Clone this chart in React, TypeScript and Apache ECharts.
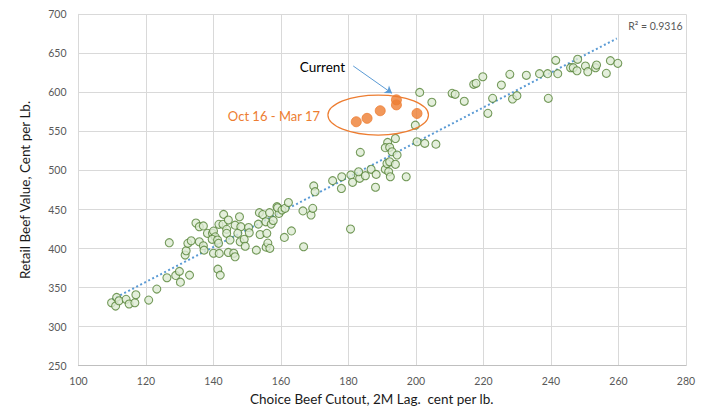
import React, { useEffect, useRef } from "react";
import * as echarts from "echarts";

// Choice beef cutout (2M lag, ¢/lb) vs retail beef value (¢/lb)
const historicalPoints: [number, number][] = [
  [109.8, 330.6], [111.0, 326.4], [111.3, 337.5], [112.0, 333.2], [114.1, 335], [115.0, 329],
  [116.7, 330.6], [117.0, 340.8], [120.8, 334], [123.2, 348.1], [126.2, 362.6], [128.8, 365.6],
  [130.2, 357], [129.9, 370.8], [132.9, 366], [126.9, 407.5],
  [131.6, 391.7], [131.9, 397.2], [132.4, 406.7], [133.4, 410], [134.8, 432.7], [135.8, 428],
  [137.0, 429], [135.8, 408.7], [137.0, 403.6], [137.2, 398], [138.2, 419.5], [139.7, 419.5],
  [140.0, 422.4], [140.5, 415], [139.6, 411.8], [141.2, 411], [141.5, 406.7], [140.0, 394],
  [141.7, 393.8], [141.3, 373.6], [142.0, 366], [141.6, 431], [143.0, 443.8], [142.8, 431],
  [144.4, 436.5], [143.9, 424.6], [143.9, 419.5], [144.9, 411], [144.4, 395], [146.0, 394],
  [146.4, 389.5], [146.4, 430], [147.7, 440.7], [148.1, 428], [147.2, 419.5], [147.9, 408.7],
  [149.1, 411.8], [149.4, 403], [150.4, 427], [150.6, 420.2], [152.7, 398], [153.3, 431.3],
  [153.6, 446], [153.8, 418], [154.6, 443.5], [155.6, 401.8], [156.1, 407], [155.8, 419.5],
  [156.7, 400.3], [156.6, 446], [155.5, 434.3], [157.1, 431.3], [157.7, 436], [158.8, 453.6],
  [159.4, 445], [159.0, 452.3], [160.3, 449.3], [161.2, 451.5], [161.0, 414.3], [162.2, 459],
  [163.1, 422.6], [166.5, 448.2], [166.7, 402.3], [168.9, 443], [169.4, 451.5], [169.7, 480.2],
  [170.1, 472.8],
  [175.3, 487], [177.9, 477], [178.0, 492], [180.7, 494.2], [181.2, 484.8], [180.6, 425],
  [183.3, 490], [183.0, 498.4], [183.5, 523.2], [185.0, 493.3], [186.7, 501.5], [188.2, 495],
  [188.0, 478.5], [190.9, 501.5], [191.4, 509], [191.9, 498.4], [192.4, 492], [191.6, 536],
  [190.9, 529.2], [192.2, 529.7], [192.9, 524], [193.9, 541], [194.4, 519.8], [192.2, 511.2],
  [193.9, 507.9], [197.1, 492], [199.8, 558], [200.3, 536.8], [202.6, 534.7], [205.9, 533.7],
  [201.1, 600], [204.7, 587.3],
  [210.7, 598.8], [211.6, 597.5], [214.3, 588.6], [217.1, 610.3], [217.8, 611.6], [219.8, 620],
  [221.3, 573.2], [222.7, 592.4], [225.3, 609.4], [227.8, 623.1], [228.6, 591.5], [229.9, 595.8],
  [232.7, 621.9], [236.6, 624], [239.0, 624], [239.2, 592.4], [241.4, 641], [242.0, 624],
  [245.8, 631.6], [247.9, 642.4], [246.6, 631.6], [247.7, 627.7], [250.2, 633.8], [250.9, 626.5],
  [253.2, 631.6], [253.5, 635], [256.4, 624.4], [257.6, 640.6], [259.8, 637.2],
];

// Oct 16 - Mar 17
const recentPoints: [number, number][] = [
  [182.3, 562.4], [185.5, 566.8], [189.4, 576.5], [194.2, 584], [194.2, 590.5], [200.3, 573],
];

const trendLineEnds: [number, number][] = [[110, 335], [259.5, 669]];
const rSquaredText = "R\u00B2 = 0.9316";
const currentText = "Current";
const periodText = "Oct 16 - Mar 17";
const currentArrow: [number, number][] = [[181.4, 633.8], [192.9, 598.8]];
const currentLabelAnchor: [number, number] = [179.0, 632.5];
const periodLabelAnchor: [number, number] = [171.6, 569.7];
const rSquaredAnchor: [number, number] = [279.0, 684.5];
const periodEllipse = { cx: 188.8, cy: 571, rx: 14.9, ry: 25.6 };

const xTitle = "Choice Beef Cutout, 2M Lag.  cent per lb.";
const yTitle = "Retail Beef Value, Cent per Lb.";

const FONT = "Lato";

export default function App() {
  const ref = useRef<HTMLDivElement>(null);
  useEffect(() => {
    if (!ref.current) return;
    const chart = echarts.init(ref.current, null, { renderer: "svg" });
    chart.setOption({
      animation: false,
      backgroundColor: "#ffffff",
      textStyle: { fontFamily: FONT },
      grid: { left: 78.5, right: 25, top: 14.3, bottom: 45.3, containLabel: false },
      xAxis: {
        type: "value",
        min: 100,
        max: 280,
        interval: 20,
        name: xTitle,
        nameLocation: "middle",
        nameGap: 22,
        nameTextStyle: { fontSize: 13.5, color: "#1a1a1a", fontFamily: FONT, padding: [0, 21, 0, 0] },
        axisLine: { show: true, lineStyle: { color: "#BFBFBF", width: 1 } },
        axisTick: { show: false },
        axisLabel: { color: "#595959", fontSize: 10.5, margin: 10, fontFamily: FONT },
        splitLine: { show: true, lineStyle: { color: "#D9D9D9", width: 1 } },
      },
      yAxis: {
        type: "value",
        min: 250,
        max: 700,
        interval: 50,
        name: yTitle,
        nameLocation: "middle",
        nameGap: 47,
        nameTextStyle: { fontSize: 13.5, color: "#1a1a1a", fontFamily: FONT },
        axisLine: { show: true, lineStyle: { color: "#D9D9D9", width: 1 } },
        axisTick: { show: false },
        axisLabel: { color: "#595959", fontSize: 10.5, margin: 12, fontFamily: FONT },
        splitLine: { show: true, lineStyle: { color: "#D9D9D9", width: 1 } },
      },
      series: [
        {
          type: "line",
          data: trendLineEnds,
          symbol: "none",
          silent: true,
          lineStyle: { color: "#5B9BD5", width: 2, type: [2, 2.5] },
          z: 1,
        },
        {
          type: "scatter",
          data: historicalPoints,
          symbol: "circle",
          symbolSize: 8,
          itemStyle: { color: "#DDEBD3", borderColor: "#548235", borderWidth: 1.1 },
          z: 3,
        },
        {
          type: "scatter",
          data: recentPoints,
          symbol: "circle",
          symbolSize: 10,
          itemStyle: { color: "#ED7D31", borderColor: "#ED7D31", borderWidth: 1 },
          z: 4,
        },
        {
          type: "lines",
          coordinateSystem: "cartesian2d",
          symbol: ["none", "arrow"],
          symbolSize: 7,
          lineStyle: { color: "#5B9BD5", width: 1, opacity: 1 },
          data: [{ coords: currentArrow }],
          z: 5,
        },
      ],
    });

    const p = (v: [number, number]) => chart.convertToPixel({ gridIndex: 0 }, v) as number[];
    const c = p([periodEllipse.cx, periodEllipse.cy]);
    const ex = p([periodEllipse.cx + periodEllipse.rx, periodEllipse.cy]);
    const ey = p([periodEllipse.cx, periodEllipse.cy + periodEllipse.ry]);
    const cur = p(currentLabelAnchor);
    const per = p(periodLabelAnchor);
    const r2 = p(rSquaredAnchor);

    chart.setOption({
      graphic: [
        {
          type: "ellipse",
          shape: { cx: c[0], cy: c[1], rx: Math.abs(ex[0] - c[0]), ry: Math.abs(c[1] - ey[1]) },
          style: { fill: "none", stroke: "#ED7D31", lineWidth: 1.2 },
          z: 10,
        },
        {
          type: "text",
          x: cur[0],
          y: cur[1],
          style: { text: currentText, fill: "#000000", fontSize: 13.5, fontFamily: FONT, align: "right", verticalAlign: "middle" },
          z: 10,
        },
        {
          type: "text",
          x: per[0],
          y: per[1],
          style: { text: periodText, fill: "#ED7D31", fontSize: 13, fontFamily: FONT, align: "right", verticalAlign: "middle" },
          z: 10,
        },
        {
          type: "text",
          x: r2[0],
          y: r2[1],
          style: { text: rSquaredText, fill: "#595959", fontSize: 10.5, fontFamily: FONT, align: "right", verticalAlign: "middle" },
          z: 10,
        },
      ],
    });

    return () => chart.dispose();
  }, []);

  return <div ref={ref} style={{ position: "fixed", left: 0, top: 0, width: 711, height: 411 }} />;
}
